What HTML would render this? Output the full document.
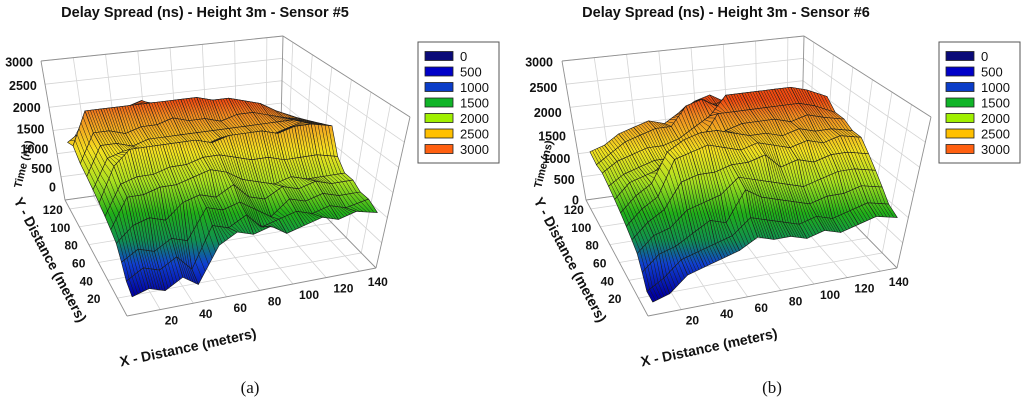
<!DOCTYPE html>
<html><head><meta charset="utf-8"><style>
html,body{margin:0;padding:0;background:#fff;}
svg{display:block;font-family:"Liberation Sans",sans-serif;}
</style></head><body>
<svg id="chart" width="1024" height="405" viewBox="0 0 1024 405" xmlns="http://www.w3.org/2000/svg">
<defs>
<linearGradient id="grad" gradientUnits="userSpaceOnUse" x1="0" y1="100" x2="0" y2="295">
<stop offset="0" stop-color="#f04a10"/>
<stop offset="0.08" stop-color="#f08a20"/>
<stop offset="0.26" stop-color="#f4e020"/>
<stop offset="0.42" stop-color="#a8e020"/>
<stop offset="0.58" stop-color="#20b018"/>
<stop offset="0.72" stop-color="#109050"/>
<stop offset="0.84" stop-color="#1040d0"/>
<stop offset="1" stop-color="#0000a0"/>
</linearGradient>
</defs>
</svg>
<script>
const xs=[5,15,25,35,45,55,65,75,85,95,105,115,125,135,148];
const ys=[120,110,100,90,80,70,60,50,40,30,20,8];
const zLeft=[
[1400,1600,1700,1800,2000,2100,1900,1800,1900,1800,1700,1600,1500,1300,1200],
[1500,2200,2200,2200,2200,2200,2200,2200,2200,2100,2100,2000,1900,1700,1500],
[1300,1900,1900,1800,1900,1900,2000,1900,1900,1800,1900,1900,1800,1700,1600],
[1200,1800,1800,1700,1800,1800,1800,1800,1800,1800,1800,1800,1800,1800,1700],
[1100,1700,1800,1800,1700,1800,1800,1700,1800,1700,1800,1700,1800,1900,1800],
[1000,1700,2000,2000,2000,2000,2000,1900,2000,2000,2000,1900,2000,2000,1900],
[900,1500,1600,1600,1700,1700,1800,1800,1700,1600,1600,1500,1500,1500,1400],
[800,1400,1400,1500,1500,1600,1700,1600,1400,1300,1200,1300,1200,1200,1200],
[700,1000,1100,1000,1300,1400,1300,1500,1200,1100,1300,1200,1300,1200,1200],
[500,700,600,800,700,1300,1200,1300,1100,900,1200,1100,1200,1100,1100],
[300,500,400,600,300,1100,1000,1200,900,1000,1100,1000,1100,1000,1100],
[200,300,200,400,200,900,1100,1000,1100,900,1000,1100,1000,1100,1000]];
const zRight=[
[1200,1300,1500,1600,1700,1600,1800,2000,2100,1900,1800,1700,1600,1500,1400],
[1100,1300,1500,1600,1700,1700,2100,2200,2000,2000,1900,1800,1800,1700,1600],
[1100,1300,1400,1500,1500,1600,1800,2000,2400,2400,2400,2400,2400,2300,2100],
[1000,1200,1300,1400,1400,1500,1700,2200,2200,2200,2200,2200,2200,2100,1900],
[900,1200,1300,1400,1500,1600,1700,2000,2100,2100,2100,2000,2100,2000,1900],
[800,1100,1300,1900,2100,2200,2200,2100,2000,2000,1900,2000,1900,1900,1800],
[700,1000,1200,1900,2000,2100,2000,1900,2000,1900,1800,1900,1800,1900,1800],
[600,900,1100,1600,1700,1700,1800,1800,1900,1600,1700,1600,1700,1700,1600],
[500,800,900,1200,1300,1400,1700,1600,1500,1400,1300,1400,1500,1500,1400],
[300,600,700,900,1100,1000,1600,1400,1300,1200,1100,1200,1200,1300,1200],
[100,300,600,700,800,900,1200,1100,1000,900,1000,900,1000,1100,1000],
[100,200,500,600,700,800,1000,900,900,800,900,800,900,1000,900]];
const zTicks=[0,500,1000,1500,2000,2500,3000];
const yTicks=[20,40,60,80,100,120];
const xTicks=[20,40,60,80,100,120,140];
const legendValues=["0","500","1000","1500","2000","2500","3000"];
const legendColors=["#0a0a78","#0000c8","#0a3cc8","#10b428","#a0f000","#ffc000","#ff6010"];
const titles=["Delay Spread (ns) - Height 3m - Sensor #5","Delay Spread (ns) - Height 3m - Sensor #6"];
const captions=["(a)","(b)"];

const NS="http://www.w3.org/2000/svg";
const svg=document.getElementById('chart');
function el(t,a,p){const e=document.createElementNS(NS,t);for(const k in a)e.setAttribute(k,a[k]);(p||svg).appendChild(e);return e;}

function makeProj(dx){
  const FL=[127+dx,316],FR=[376+dx,268],BL=[65+dx,200],BR=[280+dx,170];
  const VFL=[12,-158],VFR=[34,-151],VBL=[-24,-139],VBR=[3,-134];
  const bl=(a,b,c,d,u,v)=>{const f=a+(b-a)*u,k=c+(d-c)*u;return f+(k-f)*v;};
  return function(x,y,z){
    const u=x/150,v=y/130,t=z/3000;
    const px=bl(FL[0],FR[0],BL[0],BR[0],u,v)+bl(VFL[0],VFR[0],VBL[0],VBR[0],u,v)*t;
    const py=bl(FL[1],FR[1],BL[1],BR[1],u,v)+bl(VFL[1],VFR[1],VBL[1],VBR[1],u,v)*t;
    return [px,py];
  };
}

function panel(idx,dx,Z){
  const P=makeProj(dx);
  const g=el('g',{});
  
  
  const line=(a,b,c,w,nm)=>{const l=el('line',{x1:a[0],y1:a[1],x2:b[0],y2:b[1],stroke:c,'stroke-width':w},g);return l;};
  for(const x of xTicks){
    line(P(x,130,0),P(x,130,3000),'#d4d4d4',0.8,'back-wall-gridline');
    line(P(x,0,0),P(x,130,0),'#d4d4d4',0.8,'floor-gridline');
  }
  for(const y of yTicks){
    line(P(150,y,0),P(150,y,3000),'#d4d4d4',0.8,'side-wall-gridline');
    line(P(0,y,0),P(150,y,0),'#d4d4d4',0.8,'floor-gridline');
  }
  for(const z of zTicks){
    line(P(0,130,z),P(150,130,z),'#d4d4d4',0.8,'back-wall-gridline');
    line(P(150,130,z),P(150,0,z),'#d4d4d4',0.8,'side-wall-gridline');
  }
  const edges=[[[0,130,0],[0,130,3000]],[[0,130,3000],[150,130,3000]],[[150,130,3000],[150,0,3000]],[[150,0,3000],[150,0,0]],[[0,0,0],[150,0,0]],[[0,0,0],[0,130,0]],[[0,130,0],[150,130,0]],[[150,130,0],[150,0,0]],[[150,130,0],[150,130,3000]]];
  for(const e of edges) line(P(...e[0]),P(...e[1]),'#909090',0.9,'axis-box-edge');
  const quads=[];
  for(let i=0;i<ys.length-1;i++)for(let j=0;j<xs.length-1;j++){
    const cx=(xs[j]+xs[j+1])/2,cy=(ys[i]+ys[i+1])/2;
    quads.push({i,j,d:Math.hypot(cx+100,cy+150)});
  }
  quads.sort((a,b)=>b.d-a.d);
  for(const q of quads){
    const {i,j}=q;
    const a=[xs[j],ys[i],Z[i][j]],b=[xs[j+1],ys[i],Z[i][j+1]],c=[xs[j+1],ys[i+1],Z[i+1][j+1]],d=[xs[j],ys[i+1],Z[i+1][j]];
    const pts=[a,b,c,d].map(p=>P(...p));
    const poly=el('polygon',{points:pts.map(p=>p.join(',')).join(' '),fill:'url(#grad)',stroke:'#1a1a1a','stroke-width':0.6,'stroke-linejoin':'round'},g);
    
    
    for(const t of [1/6,2/6,3/6,4/6,5/6]){
      const p1=[pts[0][0]+(pts[1][0]-pts[0][0])*t,pts[0][1]+(pts[1][1]-pts[0][1])*t];
      const p2=[pts[3][0]+(pts[2][0]-pts[3][0])*t,pts[3][1]+(pts[2][1]-pts[3][1])*t];
      const l=el('line',{x1:p1[0],y1:p1[1],x2:p2[0],y2:p2[1],stroke:'#1a1a1a','stroke-width':0.5},g);
      
      
    }
  }
  const txt=(s,x,y,attrs,nm)=>{const t=el('text',Object.assign({x,y},attrs),g);t.textContent=s;return t;};
  const base=idx?512:0;
  const zTop=62, zBot=idx?200:187;
  for(const z of zTicks){
    const f=(3000-z)/3000;
    const yy=zTop+(zBot-zTop)*(f*1.14-0.14*f*f);
    const xx=base+(idx?41:33)+f*(idx?26:23);
    txt(String(z),xx,yy+4.5,{'font-size':12.5,'font-weight':'bold','text-anchor':'end',fill:'#111'},'z-tick-label');
  }
  for(const y of yTicks){
    const p=P(0,y,0),v=y/130;
    txt(String(y),p[0]-6-(1-v)*13,p[1]+5,{'font-size':12,'font-weight':'bold','text-anchor':'end',fill:'#111'},'y-tick-label');
  }
  for(const x of xTicks){
    const p=P(x,0,0),u=x/150;
    txt(String(x),p[0]+10+u*9,p[1]+15,{'font-size':12,'font-weight':'bold','text-anchor':'middle',fill:'#111'},'x-tick-label');
  }
  txt('X - Distance (meters)',189+dx,352,{'font-size':14,'font-weight':'bold','text-anchor':'middle',fill:'#111',transform:`rotate(-12 ${189+dx} 352)`},'x-axis-title');
  const yx=46+base+(idx?8:0);
  txt('Y - Distance (meters)',yx,262,{'font-size':14,'font-weight':'bold','text-anchor':'middle',fill:'#111',transform:`rotate(62 ${yx} 262)`},'y-axis-title');
  const tx=27+base+(idx?8:0);
  txt('Time (ns)',tx,165,{'font-size':11,'font-weight':'bold','text-anchor':'middle',fill:'#111',transform:`rotate(-76 ${tx} 165)`},'z-axis-title');
  txt(titles[idx],205+base+(idx?9:0),17,{'font-size':14.5,'font-weight':'bold','text-anchor':'middle',fill:'#111'},'chart-title');
  txt(captions[idx],250+base+(idx?10:0),393,{'font-size':17,'text-anchor':'middle',fill:'#111','font-family':'Liberation Serif, serif'},'panel-caption');
  const lx=418+dx, ly=42;
  const box=el('rect',{x:lx,y:ly,width:81,height:121,fill:'#fff',stroke:'#555','stroke-width':1},g);
  
  
  legendValues.forEach((v,k)=>{
    const cy=56+k*15.5;
    const r=el('rect',{x:lx+7,y:cy-4.5,width:28,height:9,fill:legendColors[k],stroke:'#222','stroke-width':0.8},g);
    
    
    txt(v,lx+42,cy+5,{'font-size':13,fill:'#111'},'legend-label');
  });
}
panel(0,0,zLeft);
panel(1,521,zRight);
</script>
</body></html>
